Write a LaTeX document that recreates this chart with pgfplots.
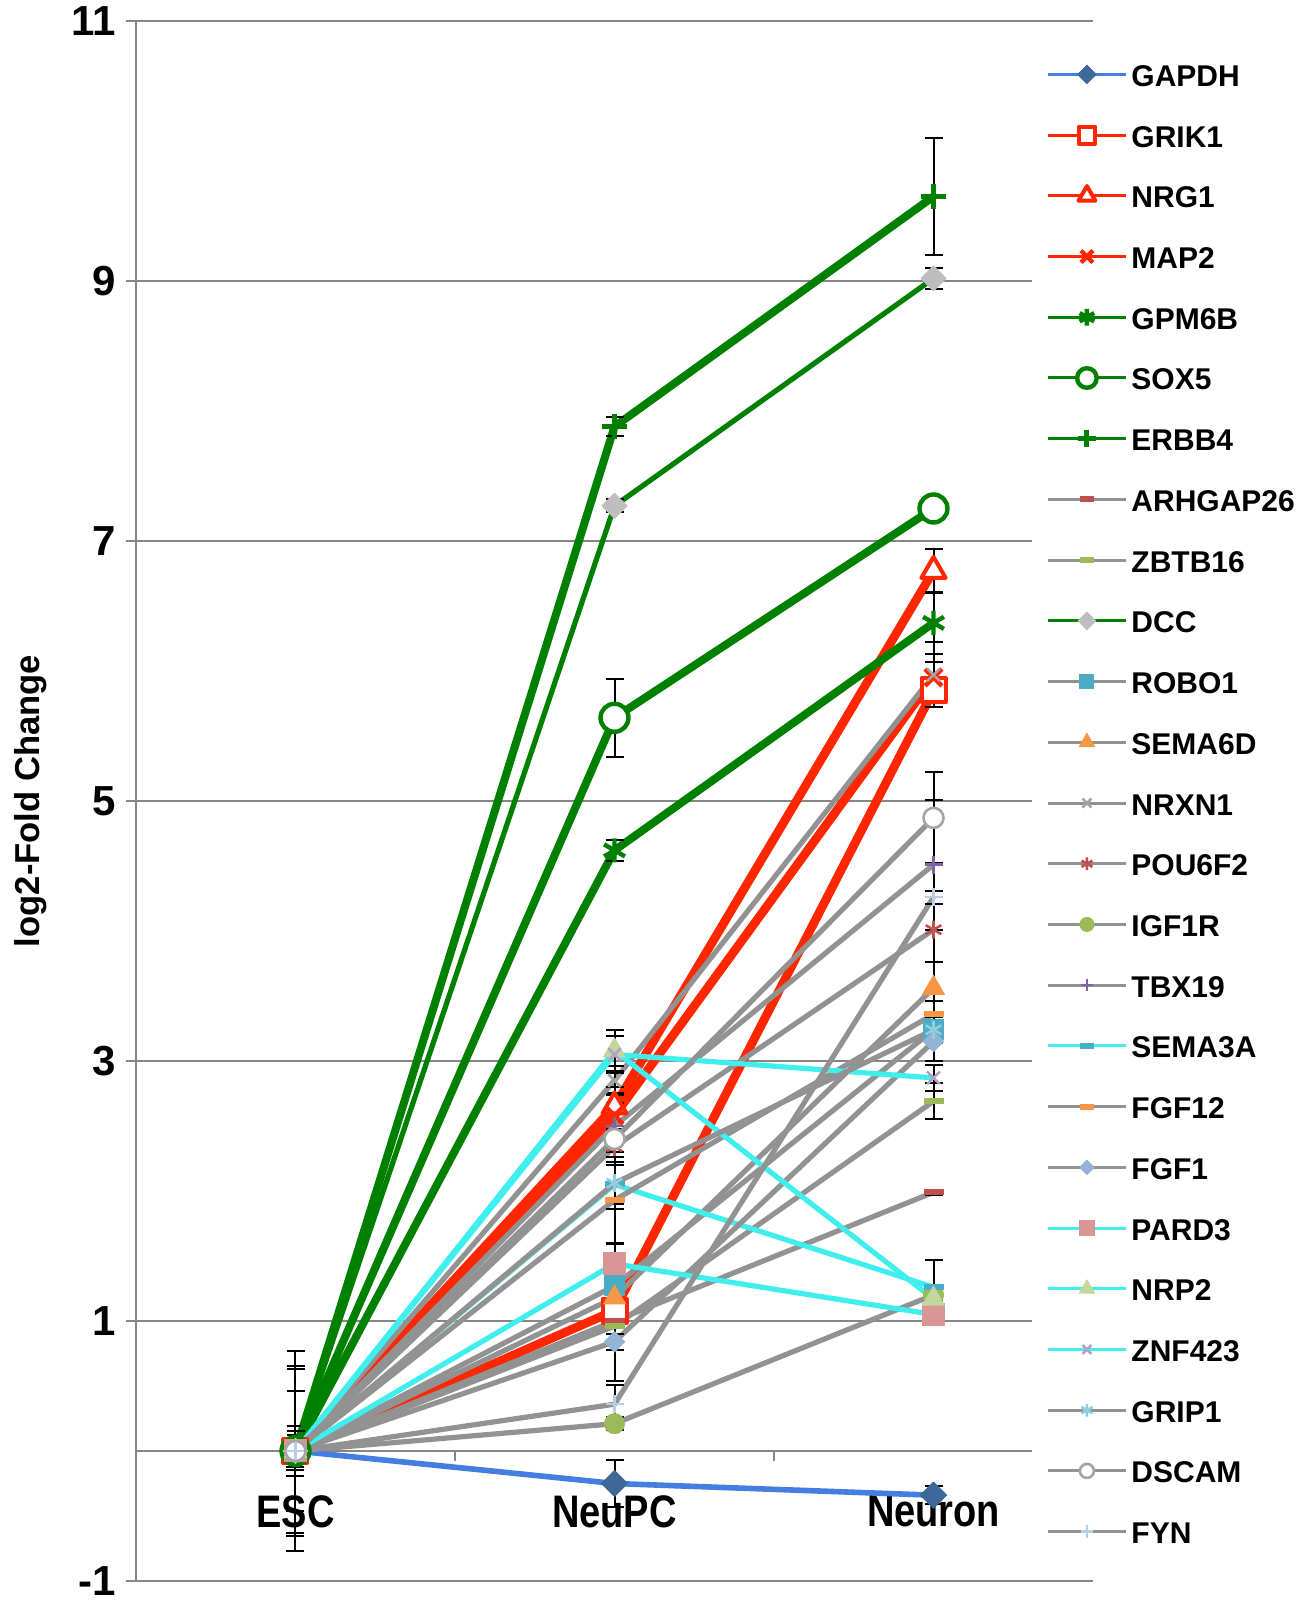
\documentclass[border=0pt]{standalone}
\usepackage{pgfplots}
\pgfplotsset{compat=1.18}
\usepackage{fontspec}
\setmainfont{Liberation Sans}
\definecolor{gridgray}{RGB}{134,134,134}
\definecolor{lgray}{RGB}{146,146,146}
\definecolor{dgreen}{RGB}{0,128,0}
\definecolor{ored}{RGB}{255,38,0}
\definecolor{cyanl}{RGB}{64,238,238}
\definecolor{blueL}{RGB}{70,125,225}
\definecolor{gapdhM}{RGB}{62,104,152}
\definecolor{mred}{RGB}{192,80,77}
\definecolor{mgreen}{RGB}{155,187,89}
\definecolor{dccgray}{RGB}{190,190,190}
\definecolor{mteal}{RGB}{75,172,198}
\definecolor{morange}{RGB}{247,150,70}
\definecolor{mgray}{RGB}{165,165,165}
\definecolor{mpurple}{RGB}{128,100,162}
\definecolor{mlblue}{RGB}{149,179,215}
\definecolor{mpink}{RGB}{217,150,148}
\definecolor{mlgreen}{RGB}{195,214,155}
\definecolor{mlpurple}{RGB}{179,162,199}
\definecolor{mlteal}{RGB}{147,205,221}
\definecolor{mvlblue}{RGB}{185,205,229}
\newcommand\ytfont{\bfseries\fontsize{21}{25}\selectfont}
\newcommand\xtfont{\bfseries\fontsize{19}{23}\selectfont}
\newcommand\legfont{\bfseries\fontsize{15}{18}\selectfont}
\pgfplotsset{
  eb/.style={error bars/.cd, y dir=both, y explicit,
    error bar style={line width=1pt, black, solid},
    error mark options={rotate=90, mark size=4.5pt, line width=1pt, black}},
  gln/.style={lgray, line width=2.6pt, line join=round},
  cln/.style={cyanl, line width=2.6pt, line join=round},
}
\begin{document}
\begin{tikzpicture}
\path[use as bounding box] (-68pt,-12pt) rectangle (587pt,790.5pt);
\begin{axis}[
  scale only axis, width=478.5pt, height=780pt,
  xmin=0.5, xmax=3.5, ymin=-1, ymax=11,
  axis y line=left, axis x line=middle,
  axis line style={-, draw=gridgray, line width=1.3pt},
  xtick={1,2,3}, xticklabels={ESC,NeuPC,Neuron},
  xtick style={draw=none},
  extra x ticks={1.5,2.5}, extra x tick labels={},
  extra x tick style={xtick style={draw=gridgray, line width=1.3pt}},
  ytick={-1,1,3,5,7,9,11}, yticklabels={-1,1,3,5,7,9,11},
  ymajorgrids, grid style={draw=gridgray, line width=1.3pt},
  ytick style={draw=gridgray, line width=1.3pt},
  tick align=outside, major tick length=5pt,
  yticklabel style={font=\ytfont, inner sep=0pt, text depth=0pt, anchor=east, xshift=-5pt},
  xticklabel style={font=\xtfont, inner sep=0pt, anchor=north, yshift=-17pt, yscale=1.2},
  ylabel={log2-Fold Change},
  every axis y label/.style={at={(rel axis cs:0,0.5)}, xshift=-52.5pt, rotate=90, anchor=center, font=\bfseries\fontsize{17.3}{20}\selectfont},
  legend cell align=left,
  legend style={at={(rel axis cs:0.9363,0.98269)}, anchor=north west, draw=none, fill=white,
    inner xsep=7pt, inner ysep=5pt, row sep=14.36pt, column sep=2pt, font=\legfont,
    nodes={inner sep=0pt, text height=14pt, text depth=2pt}},
  legend image code/.code={\draw[mark repeat=2,mark phase=2,#1, line width=1.5pt, /tikz/every mark/.append style={scale=0.7}] plot coordinates {(0pt,0pt) (19.5pt,0pt) (39pt,0pt)};},
]
% GAPDH
\addplot[blueL, line width=2.8pt, line join=round, mark=square*, mark size=4.6pt, mark options={rotate=45, fill=gapdhM, draw=gapdhM, line width=0.5pt}, eb]
  coordinates {(1,0) +- (0,0.10) (2,-0.25) +- (0,0.18) (3,-0.34) +- (0,0.07)};
\addlegendentry{GAPDH}
% GRIK1
\addplot[ored, line width=4.4pt, line join=round, mark=square*, mark size=6pt, mark options={fill=white, draw=ored, line width=2pt}, eb]
  coordinates {(1,0) +- (0,0.12) (2,1.08) +- (0,0.10) (3,5.85) +- (0,0.10)};
\addlegendentry{GRIK1}
% NRG1
\addplot[ored, line width=4.4pt, line join=round, mark=triangle*, mark size=7pt, mark options={fill=white, draw=ored, line width=2pt}, eb]
  coordinates {(1,0) +- (0,0.15) (2,2.65) +- (0,0.10) (3,6.77) +- (0,0.17)};
\addlegendentry{NRG1}
% MAP2
\addplot[ored, line width=4.4pt, line join=round, mark=x, mark size=6pt, mark options={draw=ored, line width=2.2pt}, eb]
  coordinates {(1,0) +- (0,0.10) (2,2.58) +- (0,0.10) (3,5.95) +- (0,0.12)};
\addlegendentry{MAP2}
% GPM6B
\addplot[dgreen, line width=4pt, line join=round, mark=asterisk, mark size=6pt, mark options={draw=dgreen, line width=2.2pt}, eb]
  coordinates {(1,0) +- (0,0.10) (2,4.62) +- (0,0.08) (3,6.37) +- (0,0.24)};
\addlegendentry{GPM6B}
% SOX5
\addplot[dgreen, line width=4pt, line join=round, mark=*, mark size=7pt, mark options={fill=white, draw=dgreen, line width=2.2pt}, eb]
  coordinates {(1,0) +- (0,0.12) (2,5.64) +- (0,0.30) (3,7.25) +- (0,0.05)};
\addlegendentry{SOX5}
% ERBB4
\addplot[dgreen, line width=4pt, line join=round, mark=+, mark size=6.2pt, mark options={draw=dgreen, line width=2.5pt}, eb]
  coordinates {(1,0) +- (0,0.10) (2,7.88) +- (0,0.07) (3,9.65) +- (0,0.45)};
\addlegendentry{ERBB4}
% ARHGAP26
\addplot[gln, mark=-, mark size=5pt, mark options={draw=mred, line width=3pt}, eb]
  coordinates {(1,0) +- (0,0.19) (2,1.00) +- (0,0.10) (3,1.99) +- (0,0.02)};
\addlegendentry{ARHGAP26}
% ZBTB16
\addplot[gln, mark=-, mark size=5pt, mark options={draw=mgreen, line width=3pt}, eb]
  coordinates {(1,0) +- (0,0.10) (2,0.96) +- (0,0.42) (3,2.69) +- (0,0.14)};
\addlegendentry{ZBTB16}
% DCC
\addplot[dgreen, line width=2.6pt, line join=round, mark=square*, mark size=4.4pt, mark options={rotate=45, fill=dccgray, draw=dccgray, line width=0.5pt}, eb]
  coordinates {(1,0) +- (0,0.10) (2,7.27) +- (0,0.05) (3,9.02) +- (0,0.08)};
\addlegendentry{DCC}
% ROBO1
\addplot[gln, mark=square*, mark size=5pt, mark options={fill=mteal, draw=mteal, line width=0.5pt}, eb]
  coordinates {(1,0) +- (0,0.10) (2,1.27) +- (0,0.10) (3,3.24) +- (0,0.10)};
\addlegendentry{ROBO1}
% SEMA6D
\addplot[gln, mark=triangle*, mark size=6.3pt, mark options={fill=morange, draw=morange, line width=0.5pt}, eb]
  coordinates {(1,0) +- (0,0.15) (2,1.18) +- (0,0.10) (3,3.56) +- (0,0.20)};
\addlegendentry{SEMA6D}
% NRXN1
\addplot[gln, mark=x, mark size=4.5pt, mark options={draw=mgray, line width=1.3pt}, eb]
  coordinates {(1,0) +- (0,0.10) (2,2.85) +- (0,0.11) (3,5.97) +- (0,0.25)};
\addlegendentry{NRXN1}
% POU6F2
\addplot[gln, mark=asterisk, mark size=4.5pt, mark options={draw=mred, line width=1.3pt}, eb]
  coordinates {(1,0) +- (0,0.10) (2,2.34) +- (0,0.12) (3,4.01) +- (0,0.25)};
\addlegendentry{POU6F2}
% IGF1R
\addplot[gln, mark=*, mark size=5pt, mark options={fill=mgreen, draw=mgreen, line width=0.5pt}, eb]
  coordinates {(1,0) +- (0,0.65) (2,0.21) +- (0,0.05) (3,1.20) +- (0,0.05)};
\addlegendentry{IGF1R}
% TBX19
\addplot[gln, mark=+, mark size=4.5pt, mark options={draw=mpurple, line width=1.3pt}, eb]
  coordinates {(1,0) +- (0,0.63) (2,2.50) +- (0,0.30) (3,4.51) +- (0,0.50)};
\addlegendentry{TBX19}
% SEMA3A
\addplot[cln, mark=-, mark size=5pt, mark options={draw=mteal, line width=3pt}, eb]
  coordinates {(1,0) +- (0,0.10) (2,2.05) +- (0,0.15) (3,1.26) +- (0,0.21)};
\addlegendentry{SEMA3A}
% FGF12
\addplot[gln, mark=-, mark size=5pt, mark options={draw=morange, line width=3pt}, eb]
  coordinates {(1,0) +- (0,0.10) (2,1.93) +- (0,0.33) (3,3.36) +- (0,0.10)};
\addlegendentry{FGF12}
% FGF1
\addplot[gln, mark=square*, mark size=3.6pt, mark options={rotate=45, fill=mlblue, draw=mlblue, line width=0.5pt}, eb]
  coordinates {(1,0) +- (0,0.10) (2,0.84) +- (0,0.06) (3,3.15) +- (0,0.15)};
\addlegendentry{FGF1}
% PARD3
\addplot[cln, mark=square*, mark size=5.5pt, mark options={fill=mpink, draw=mpink, line width=0.5pt}, eb]
  coordinates {(1,0) +- (0,0.10) (2,1.44) +- (0,0.15) (3,1.05) +- (0,0.05)};
\addlegendentry{PARD3}
% NRP2
\addplot[cln, mark=triangle*, mark size=6.3pt, mark options={fill=mlgreen, draw=mlgreen, line width=0.5pt}, eb]
  coordinates {(1,0) +- (0,0.10) (2,3.08) +- (0,0.16) (3,1.17) +- (0,0.10)};
\addlegendentry{NRP2}
% ZNF423
\addplot[cln, mark=x, mark size=4.5pt, mark options={draw=mlpurple, line width=1.3pt}, eb]
  coordinates {(1,0) +- (0,0.10) (2,3.05) +- (0,0.14) (3,2.87) +- (0,0.10)};
\addlegendentry{ZNF423}
% GRIP1
\addplot[gln, mark=asterisk, mark size=4.5pt, mark options={draw=mlteal, line width=1.3pt}, eb]
  coordinates {(1,0) +- (0,0.10) (2,2.06) +- (0,0.20) (3,3.24) +- (0,0.10)};
\addlegendentry{GRIP1}
% DSCAM
\addplot[gln, mark=*, mark size=5pt, mark options={fill=white, draw=mgray, line width=1.3pt}, eb]
  coordinates {(1,0) +- (0,0.46) (2,2.40) +- (0,0.10) (3,4.87) +- (0,0.35)};
\addlegendentry{DSCAM}
% FYN
\addplot[gln, mark=+, mark size=4.5pt, mark options={draw=mvlblue, line width=1.3pt}, eb]
  coordinates {(1,0) +- (0,0.77) (2,0.36) +- (0,0.15) (3,4.26) +- (0,0.05)};
\addlegendentry{FYN}
\end{axis}
\end{tikzpicture}
\end{document}
